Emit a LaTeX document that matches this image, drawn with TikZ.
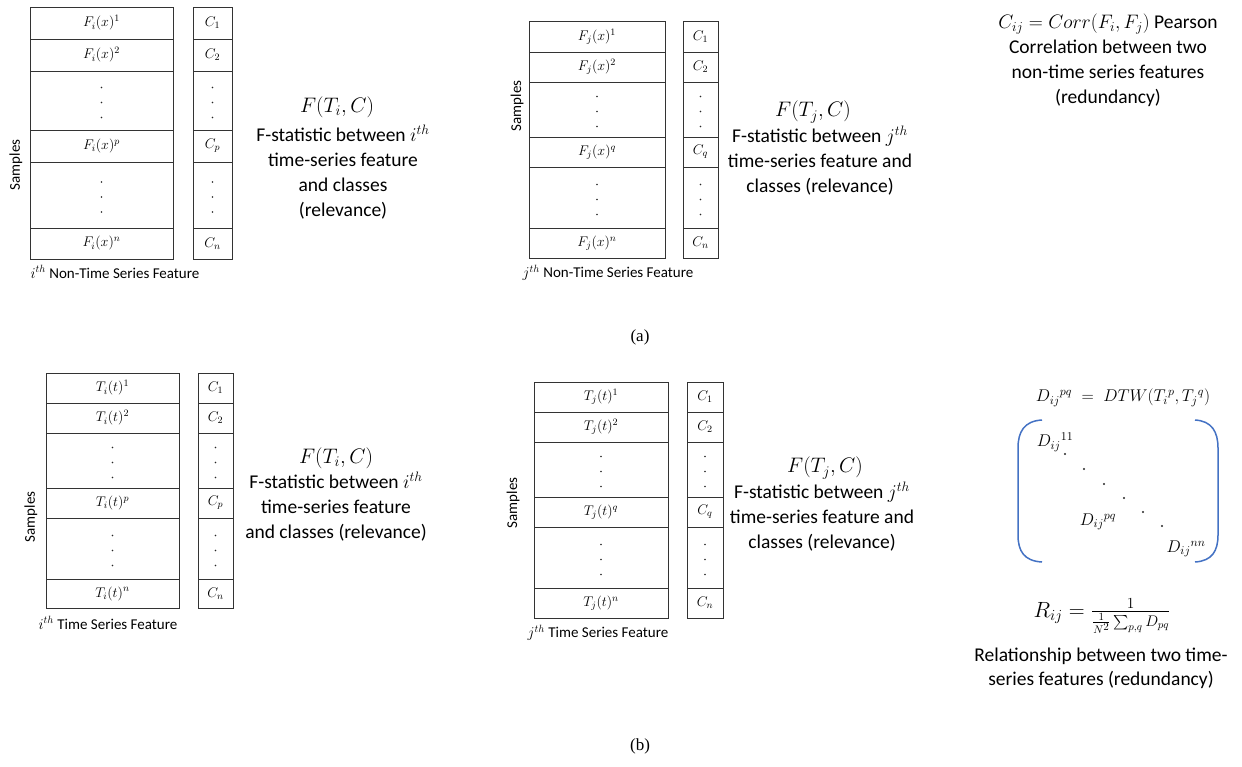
\RequirePackage{fix-cm}
\documentclass[tikz,border=0pt]{standalone}
\usepackage{amsmath}
\usepackage{fontspec}
\setmainfont{Carlito}
\newfontfamily\timesfont{Liberation Serif}
\definecolor{brk}{RGB}{68,114,196}
\tikzset{
  cellline/.style={draw=black!80, line width=0.9pt},
  lab/.style={font=\fontsize{14}{16}\selectfont, inner sep=0pt},
  side/.style={font=\fontsize{15}{17}\selectfont, inner sep=0pt},
  desc/.style={font=\fontsize{19.5}{25}\selectfont, align=center, inner sep=0pt},
  mathbig/.style={font=\fontsize{21}{25}\selectfont, inner sep=0pt},
  mlab/.style={font=\fontsize{17}{19}\selectfont, inner sep=0pt},
  dotc/.style={fill=black!85},
  bracket/.style={draw=brk, line width=1.5pt},
  sublab/.style={font=\fontsize{17}{20}\timesfont, inner sep=0pt}
}
\def\parsexs#1,#2,#3,#4\relax{\def\tXa{#1}\def\tXb{#2}\def\tXc{#3}\def\tXd{#4}}
\def\parseys#1,#2,#3,#4,#5,#6,#7\relax{\def\tYa{#1}\def\tYb{#2}\def\tYc{#3}\def\tYd{#4}\def\tYe{#5}\def\tYf{#6}\def\tYg{#7}}
\newcommand\mktable[5]{%
  \parsexs#2\relax
  \parseys#3\relax
  \foreach \u/\v in {\tYa/\tYb,\tYb/\tYc,\tYc/\tYd,\tYd/\tYe,\tYe/\tYf,\tYf/\tYg}{%
    \draw[cellline] (\tXa,\u) rectangle (\tXb,\v);
    \draw[cellline] (\tXc,\u) rectangle (\tXd,\v);
  }%
  \path ({(\tXa+\tXb)/2},{(\tYa+\tYb)/2}) node[lab] (#1f1) {$#4^{1}$}
        ({(\tXc+\tXd)/2},{(\tYa+\tYb)/2}) node[lab] (#1c1) {$C_{1}$}
        ({(\tXa+\tXb)/2},{(\tYb+\tYc)/2}) node[lab] (#1f2) {$#4^{2}$}
        ({(\tXc+\tXd)/2},{(\tYb+\tYc)/2}) node[lab] (#1c2) {$C_{2}$}
        ({(\tXa+\tXb)/2},{(\tYd+\tYe)/2}) node[lab] (#1fp) {$#4^{#5}$}
        ({(\tXc+\tXd)/2},{(\tYd+\tYe)/2}) node[lab] (#1cp) {$C_{#5}$}
        ({(\tXa+\tXb)/2},{(\tYf+\tYg)/2}) node[lab] (#1fn) {$#4^{n}$}
        ({(\tXc+\tXd)/2},{(\tYf+\tYg)/2}) node[lab] (#1cn) {$C_{n}$};
  \foreach \k in {-15,0,15}{%
    \fill[dotc] ({(\tXa+\tXb)/2},{(\tYc+\tYd)/2+2+\k}) circle (0.9pt);
    \fill[dotc] ({(\tXc+\tXd)/2},{(\tYc+\tYd)/2+2+\k}) circle (0.9pt);
    \fill[dotc] ({(\tXa+\tXb)/2},{(\tYe+\tYf)/2+2+\k}) circle (0.9pt);
    \fill[dotc] ({(\tXc+\tXd)/2},{(\tYe+\tYf)/2+2+\k}) circle (0.9pt);
  }%
}
\begin{document}
\begin{tikzpicture}[x=1pt,y=-1pt]
\fill[white] (0,0) rectangle (1242,767);
\useasboundingbox (0,0) rectangle (1242,767);

% ---------- (a) top-left ----------
\mktable{tl}{30,173,193,232}{7,39,71,130,162,228,259}{F_i(x)}{p}
\node[side, rotate=90] (tlsam) at (16,165) {Samples};
\node[side] (tlcap) at (115,272) {$i^{th}$ Non-Time Series Feature};
\node[mathbig] (tlF) at (337,107) {$F(T_i,C)$};
\node[desc] (tldesc) at (343,172.5) {F-statistic between $i^{th}$\\time-series feature\\and classes\\(relevance)};

% ---------- (a) top-middle ----------
\mktable{tm}{529,665,683,718}{21,52,82,137,167,228,258}{F_j(x)}{q}
\node[side, rotate=90] (tmsam) at (517,106) {Samples};
\node[side] (tmcap) at (608,273) {$j^{th}$ Non-Time Series Feature};
\node[mathbig] (tmF) at (813,112) {$F(T_j,C)$};
\node[desc] (tmdesc) at (820,160.5) {F-statistic between $j^{th}$\\time-series feature and\\classes (relevance)};

% ---------- (a) top-right ----------
\node[desc] (trhead) at (1108,24) {$C_{ij}=Corr(F_i,F_j)$ Pearson};
\node[desc] (tr) at (1108,73.5) {Correlation between two\\non-time series features\\(redundancy)};

\node[sublab] (capa) at (640,337) {(a)};

% ---------- (b) bottom-left ----------
\mktable{bl}{46,179,198,233}{373,403,433,488,518,579,608}{T_i(t)}{p}
\node[side, rotate=90] (blsam) at (31,517) {Samples};
\node[side] (blcap) at (108,623) {$i^{th}$ Time Series Feature};
\node[mathbig] (blF) at (336,458) {$F(T_i,C)$};
\node[desc] (bldesc) at (336,506.5) {F-statistic between $i^{th}$\\time-series feature\\and classes (relevance)};

% ---------- (b) bottom-middle ----------
\mktable{bm}{534,668,687,723}{382,412,442,497,527,588,618}{T_j(t)}{q}
\node[side, rotate=90] (bmsam) at (513,503) {Samples};
\node[side] (bmcap) at (598,633) {$j^{th}$ Time Series Feature};
\node[mathbig] (bmF) at (825,468) {$F(T_j,C)$};
\node[desc] (bmdesc) at (822,517) {F-statistic between $j^{th}$\\time-series feature and\\classes (relevance)};

% ---------- (b) bottom-right ----------
\node[font=\fontsize{17}{20}\selectfont, inner sep=0pt] (dtw) at (1123,398) {$D_{ij}{}^{pq}\;=\;DTW(T_i{}^{p},T_j{}^{q})$};
\draw[bracket] (1042,420) .. controls (1024,421) and (1018,432) .. (1018,448) -- (1018,535) .. controls (1018,551) and (1024,561) .. (1042,562);
\draw[bracket] (1195,420) .. controls (1212,421) and (1218,432) .. (1218,448) -- (1218,535) .. controls (1218,551) and (1212,561) .. (1195,562);
\node[mlab] (d11) at (1055,442) {$D_{ij}{}^{11}$};
\node[mlab] (dpq) at (1098,522) {$D_{ij}{}^{pq}$};
\node[mlab] (dnn) at (1186,549) {$D_{ij}{}^{nn}$};
\foreach \px/\py in {1065/454,1084/469,1104/484,1124/498,1143/512,1162/526}{
  \fill[dotc] (\px,\py) circle (1.2pt);
}
\node[font=\fontsize{22}{26}\selectfont, inner sep=0pt] (rij) at (1102,616) {$R_{ij}=\frac{1}{\frac{1}{N^2}\sum_{p,q}D_{pq}}$};
\node[desc, font=\fontsize{19.5}{23.5}\selectfont] (rdesc) at (1101,668.5) {Relationship between two time-\\series features (redundancy)};

\node[sublab] (capb) at (640,746) {(b)};
\end{tikzpicture}
\end{document}
